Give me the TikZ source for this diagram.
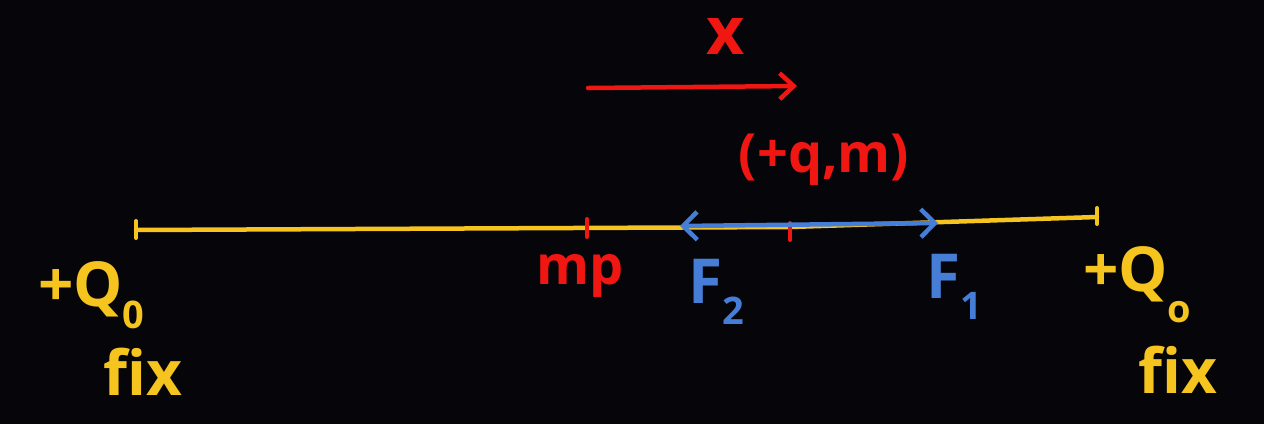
\documentclass[tikz,border=0pt]{standalone}
\usepackage{fontspec}
\setmainfont{Open Sans}
\usetikzlibrary{arrows.meta}
\definecolor{bg}{RGB}{5,5,10}
\definecolor{yel}{RGB}{245,196,30}
\definecolor{rd}{RGB}{240,22,18}
\definecolor{bl}{RGB}{70,125,215}
\newcommand{\lowidx}[2][0.35em]{\raisebox{-#1}{\fontsize{38}{38}\selectfont #2}}
\tikzset{
  rod/.style={draw=yel, line width=4.5pt, line cap=round},
  tickmark/.style={line width=4pt, line cap=round},
  yeltext/.style={text=yel, font=\fontsize{62}{64}\selectfont\bfseries, inner sep=0pt},
  redtext/.style={text=rd, font=\fontsize{54}{56}\selectfont\bfseries, inner sep=0pt},
  bluetext/.style={text=bl, font=\fontsize{62}{64}\selectfont\bfseries, inner sep=0pt},
  redarrow/.style={draw=rd, line width=4.5pt, line cap=round, -{Straight Barb[length=14pt,width=26pt,line width=4.5pt]}},
  bluearrow/.style={draw=bl, line width=4.5pt, line cap=round, {Straight Barb[length=14pt,width=28pt,line width=4.5pt]}-{Straight Barb[length=14pt,width=28pt,line width=4.5pt]}}
}
\begin{document}
\begin{tikzpicture}[x=1pt,y=-1pt]
\fill[bg] (0,0) rectangle (1264,424);
\useasboundingbox (0,0) rectangle (1264,424);
% rod
\coordinate (L) at (136,230);
\coordinate (M) at (790,227);
\coordinate (R) at (1097,217);
\draw[rod] (L) -- (M) -- (R);
\draw[tickmark, draw=yel] (136,221) -- (136,238);
\draw[tickmark, draw=yel] (1097,208) -- (1097,224);
% points on rod
\coordinate (MP) at (587,226);
\coordinate (Q) at (790,228);
\draw[tickmark, draw=rd] (587,219) -- (587,237);
\draw[tickmark, draw=rd] (790,223) -- (790,240);
% forces
\coordinate (F2tip) at (680,226);
\coordinate (F1tip) at (938,223);
\draw[bluearrow] (F2tip) -- (F1tip);
% displacement arrow
\coordinate (XA) at (588,88);
\coordinate (XB) at (797,86);
\draw[redarrow] (XA) -- (XB);
% labels
\node[redtext, font=\fontsize{66}{66}\selectfont\bfseries] (xlab) at (726,36) {x};
\node[redtext] (qlab) at (824,160) {(+q,m)};
\node[redtext] (mplab) at (580,276) {mp};
\node[bluetext, anchor=west] (f2lab) at (688,292) {F\lowidx{2}};
\node[bluetext, anchor=west] (f1lab) at (926,287) {F\lowidx{1}};
\node[yeltext, anchor=west] (q0l) at (38,295) {+Q\lowidx{0}};
\node[yeltext] (fixl) at (143,372) {fix};
\node[yeltext, anchor=west] (q0r) at (1083,285) {+Q\lowidx[0.5em]{o}};
\node[yeltext] (fixr) at (1178,370) {fix};
\end{tikzpicture}
\end{document}
